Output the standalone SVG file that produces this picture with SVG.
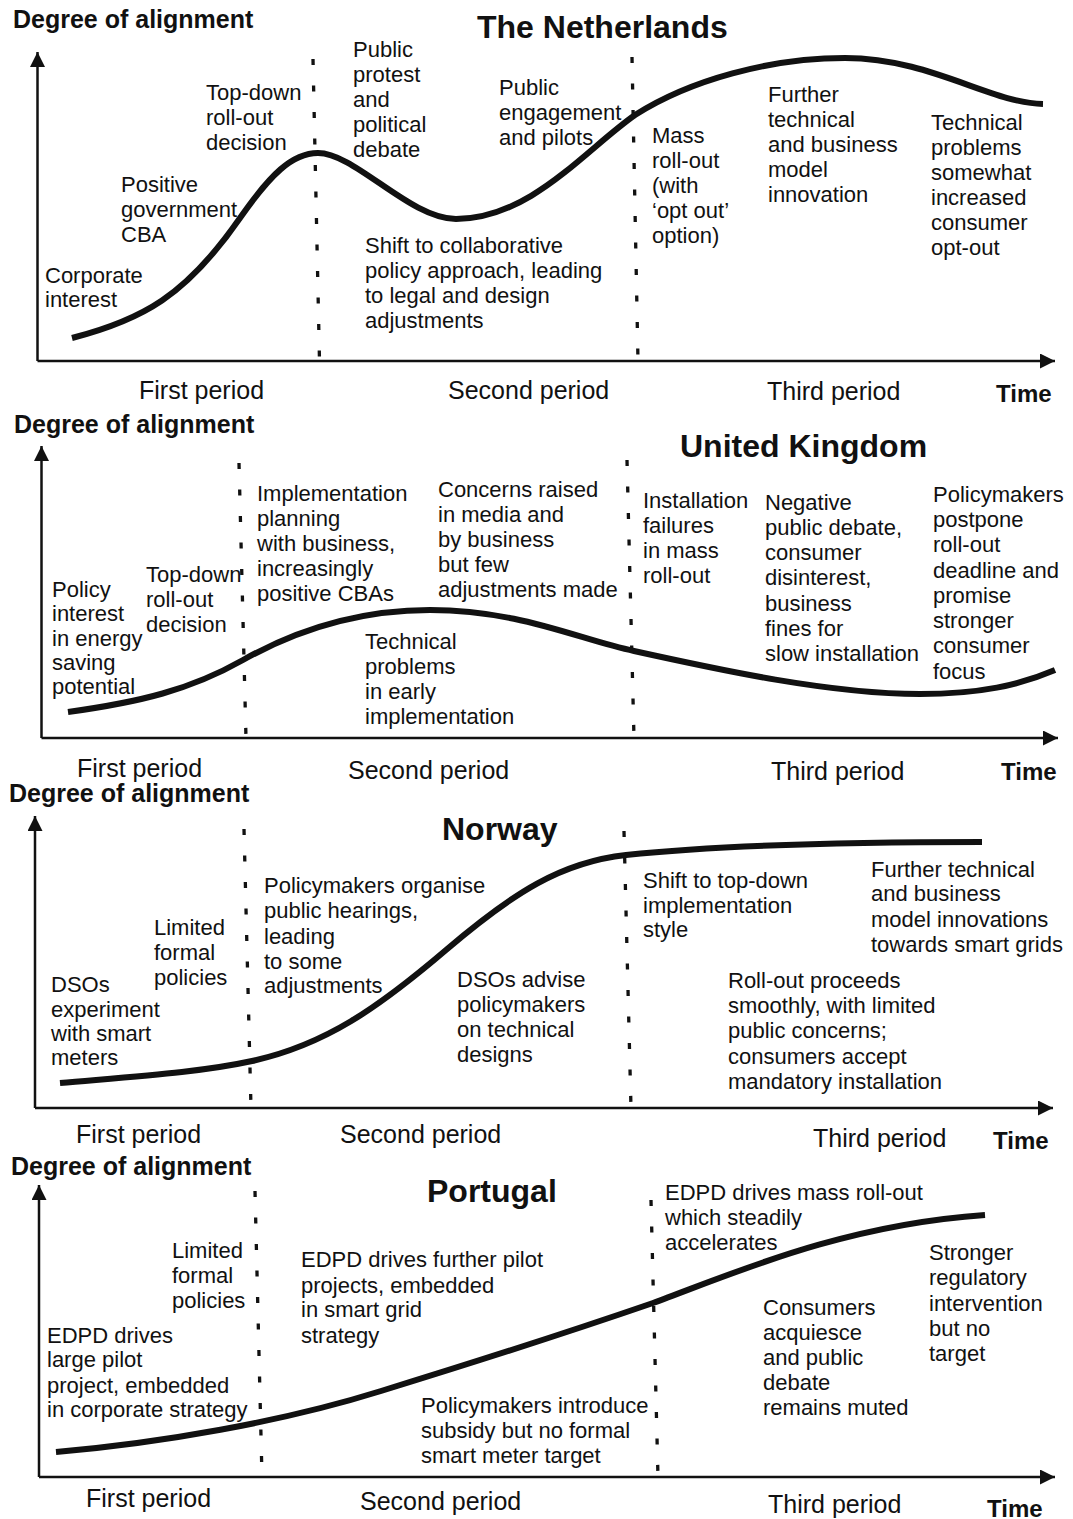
<svg xmlns="http://www.w3.org/2000/svg" width="1073" height="1519" viewBox="0 0 1073 1519">
<defs>
<marker id="arr" viewBox="0 0 16 16" refX="16" refY="8" markerWidth="16" markerHeight="15" markerUnits="userSpaceOnUse" orient="auto">
<path d="M0,0 L16,8 L0,16 z" fill="#111"/>
</marker>
</defs>
<style>
text{font-family:"Liberation Sans",Arial,Helvetica,sans-serif;fill:#111}
.lbl{font-size:22px}
.per{font-size:25px}
.ax{font-size:25px;font-weight:bold}
.ttl{font-size:32px;font-weight:bold}
.time{font-size:24px;font-weight:bold}
.axis{stroke:#111;stroke-width:2.5;fill:none;marker-end:url(#arr)}
.curve{stroke:#111;stroke-width:6;fill:none;stroke-linecap:butt}
.dot{stroke:#111;stroke-width:3.3;fill:none;stroke-dasharray:6 20.5}
</style>
<rect width="1073" height="1519" fill="#fff"/>

<!-- ================= Panel 1: The Netherlands ================= -->
<g id="panel-nl">
<g id="nl-ylabel"><text class="ax" x="13" y="28">Degree of alignment</text></g>
<g id="nl-title"><text class="ttl" x="477" y="38">The Netherlands</text></g>
<g id="nl-n1"><text class="lbl"><tspan x="45" y="283">Corporate</tspan><tspan x="45" y="307">interest</tspan></text></g>
<g id="nl-n2"><text class="lbl"><tspan x="121" y="192">Positive</tspan><tspan x="121" y="217">government</tspan><tspan x="121" y="242">CBA</tspan></text></g>
<g id="nl-n3"><text class="lbl"><tspan x="206" y="100">Top-down</tspan><tspan x="206" y="125">roll-out</tspan><tspan x="206" y="150">decision</tspan></text></g>
<g id="nl-n4"><text class="lbl"><tspan x="353" y="57">Public</tspan><tspan x="353" y="82">protest</tspan><tspan x="353" y="107">and</tspan><tspan x="353" y="132">political</tspan><tspan x="353" y="157">debate</tspan></text></g>
<g id="nl-n5"><text class="lbl"><tspan x="365" y="253">Shift to collaborative</tspan><tspan x="365" y="278">policy approach, leading</tspan><tspan x="365" y="303">to legal and design</tspan><tspan x="365" y="328">adjustments</tspan></text></g>
<g id="nl-n6"><text class="lbl"><tspan x="499" y="95">Public</tspan><tspan x="499" y="120">engagement</tspan><tspan x="499" y="145">and pilots</tspan></text></g>
<g id="nl-n7"><text class="lbl"><tspan x="652" y="143">Mass</tspan><tspan x="652" y="168">roll-out</tspan><tspan x="652" y="193">(with</tspan><tspan x="652" y="218">‘opt out’</tspan><tspan x="652" y="243">option)</tspan></text></g>
<g id="nl-n8"><text class="lbl"><tspan x="768" y="102">Further</tspan><tspan x="768" y="127">technical</tspan><tspan x="768" y="152">and business</tspan><tspan x="768" y="177">model</tspan><tspan x="768" y="202">innovation</tspan></text></g>
<g id="nl-n9"><text class="lbl"><tspan x="931" y="130">Technical</tspan><tspan x="931" y="155">problems</tspan><tspan x="931" y="180">somewhat</tspan><tspan x="931" y="205">increased</tspan><tspan x="931" y="230">consumer</tspan><tspan x="931" y="255">opt-out</tspan></text></g>
<g id="nl-p1"><text class="per" x="139" y="399">First period</text></g>
<g id="nl-p2"><text class="per" x="448" y="399">Second period</text></g>
<g id="nl-p3"><text class="per" x="767" y="400">Third period</text></g>
<g id="nl-time"><text class="time" x="996" y="402">Time</text></g>
</g>

<!-- ================= Panel 2: United Kingdom ================= -->
<g id="panel-uk">
<g id="uk-ylabel"><text class="ax" x="14" y="433">Degree of alignment</text></g>
<g id="uk-title"><text class="ttl" x="680" y="457">United Kingdom</text></g>
<g id="uk-n1"><text class="lbl"><tspan x="52" y="597">Policy</tspan><tspan x="52" y="621">interest</tspan><tspan x="52" y="646">in energy</tspan><tspan x="52" y="670">saving</tspan><tspan x="52" y="694">potential</tspan></text></g>
<g id="uk-n2"><text class="lbl"><tspan x="146" y="582">Top-down</tspan><tspan x="146" y="607">roll-out</tspan><tspan x="146" y="632">decision</tspan></text></g>
<g id="uk-n3"><text class="lbl"><tspan x="257" y="501">Implementation</tspan><tspan x="257" y="526">planning</tspan><tspan x="257" y="551">with business,</tspan><tspan x="257" y="576">increasingly</tspan><tspan x="257" y="601">positive CBAs</tspan></text></g>
<g id="uk-n4"><text class="lbl"><tspan x="438" y="497">Concerns raised</tspan><tspan x="438" y="522">in media and</tspan><tspan x="438" y="547">by business</tspan><tspan x="438" y="572">but few</tspan><tspan x="438" y="597">adjustments made</tspan></text></g>
<g id="uk-n5"><text class="lbl"><tspan x="365" y="649">Technical</tspan><tspan x="365" y="674">problems</tspan><tspan x="365" y="699">in early</tspan><tspan x="365" y="724">implementation</tspan></text></g>
<g id="uk-n6"><text class="lbl"><tspan x="643" y="508">Installation</tspan><tspan x="643" y="533">failures</tspan><tspan x="643" y="558">in mass</tspan><tspan x="643" y="583">roll-out</tspan></text></g>
<g id="uk-n7"><text class="lbl"><tspan x="765" y="510">Negative</tspan><tspan x="765" y="535">public debate,</tspan><tspan x="765" y="560">consumer</tspan><tspan x="765" y="585">disinterest,</tspan><tspan x="765" y="611">business</tspan><tspan x="765" y="636">fines for</tspan><tspan x="765" y="661">slow installation</tspan></text></g>
<g id="uk-n8"><text class="lbl"><tspan x="933" y="502">Policymakers</tspan><tspan x="933" y="527">postpone</tspan><tspan x="933" y="552">roll-out</tspan><tspan x="933" y="578">deadline and</tspan><tspan x="933" y="603">promise</tspan><tspan x="933" y="628">stronger</tspan><tspan x="933" y="653">consumer</tspan><tspan x="933" y="679">focus</tspan></text></g>
<g id="uk-p1"><text class="per" x="77" y="777">First period</text></g>
<g id="uk-p2"><text class="per" x="348" y="779">Second period</text></g>
<g id="uk-p3"><text class="per" x="771" y="780">Third period</text></g>
<g id="uk-time"><text class="time" x="1001" y="780">Time</text></g>
</g>

<!-- ================= Panel 3: Norway ================= -->
<g id="panel-no">
<g id="no-ylabel"><text class="ax" x="9" y="802">Degree of alignment</text></g>
<g id="no-title"><text class="ttl" x="442" y="840">Norway</text></g>
<g id="no-n1"><text class="lbl"><tspan x="51" y="992">DSOs</tspan><tspan x="51" y="1017">experiment</tspan><tspan x="51" y="1041">with smart</tspan><tspan x="51" y="1065">meters</tspan></text></g>
<g id="no-n2"><text class="lbl"><tspan x="154" y="935">Limited</tspan><tspan x="154" y="960">formal</tspan><tspan x="154" y="985">policies</tspan></text></g>
<g id="no-n3"><text class="lbl"><tspan x="264" y="893">Policymakers organise</tspan><tspan x="264" y="918">public hearings,</tspan><tspan x="264" y="944">leading</tspan><tspan x="264" y="969">to some</tspan><tspan x="264" y="993">adjustments</tspan></text></g>
<g id="no-n4"><text class="lbl"><tspan x="457" y="987">DSOs advise</tspan><tspan x="457" y="1012">policymakers</tspan><tspan x="457" y="1037">on technical</tspan><tspan x="457" y="1062">designs</tspan></text></g>
<g id="no-n5"><text class="lbl"><tspan x="643" y="888">Shift to top-down</tspan><tspan x="643" y="913">implementation</tspan><tspan x="643" y="937">style</tspan></text></g>
<g id="no-n6"><text class="lbl"><tspan x="871" y="877">Further technical</tspan><tspan x="871" y="901">and business</tspan><tspan x="871" y="927">model innovations</tspan><tspan x="871" y="952">towards smart grids</tspan></text></g>
<g id="no-n7"><text class="lbl"><tspan x="728" y="988">Roll-out proceeds</tspan><tspan x="728" y="1013">smoothly, with limited</tspan><tspan x="728" y="1038">public concerns;</tspan><tspan x="728" y="1064">consumers accept</tspan><tspan x="728" y="1089">mandatory installation</tspan></text></g>
<g id="no-p1"><text class="per" x="76" y="1143">First period</text></g>
<g id="no-p2"><text class="per" x="340" y="1143">Second period</text></g>
<g id="no-p3"><text class="per" x="813" y="1147">Third period</text></g>
<g id="no-time"><text class="time" x="993" y="1149">Time</text></g>
</g>

<!-- ================= Panel 4: Portugal ================= -->
<g id="panel-pt">
<g id="pt-ylabel"><text class="ax" x="11" y="1175">Degree of alignment</text></g>
<g id="pt-title"><text class="ttl" x="427" y="1202">Portugal</text></g>
<g id="pt-n1"><text class="lbl"><tspan x="47" y="1343">EDPD drives</tspan><tspan x="47" y="1367">large pilot</tspan><tspan x="47" y="1393">project, embedded</tspan><tspan x="47" y="1417">in corporate strategy</tspan></text></g>
<g id="pt-n2"><text class="lbl"><tspan x="172" y="1258">Limited</tspan><tspan x="172" y="1283">formal</tspan><tspan x="172" y="1308">policies</tspan></text></g>
<g id="pt-n3"><text class="lbl"><tspan x="301" y="1267">EDPD drives further pilot</tspan><tspan x="301" y="1293">projects, embedded</tspan><tspan x="301" y="1317">in smart grid</tspan><tspan x="301" y="1343">strategy</tspan></text></g>
<g id="pt-n4"><text class="lbl"><tspan x="421" y="1413">Policymakers introduce</tspan><tspan x="421" y="1438">subsidy but no formal</tspan><tspan x="421" y="1463">smart meter target</tspan></text></g>
<g id="pt-n5"><text class="lbl"><tspan x="665" y="1200">EDPD drives mass roll-out</tspan><tspan x="665" y="1225">which steadily</tspan><tspan x="665" y="1250">accelerates</tspan></text></g>
<g id="pt-n6"><text class="lbl"><tspan x="763" y="1315">Consumers</tspan><tspan x="763" y="1340">acquiesce</tspan><tspan x="763" y="1365">and public</tspan><tspan x="763" y="1390">debate</tspan><tspan x="763" y="1415">remains muted</tspan></text></g>
<g id="pt-n7"><text class="lbl"><tspan x="929" y="1260">Stronger</tspan><tspan x="929" y="1285">regulatory</tspan><tspan x="929" y="1311">intervention</tspan><tspan x="929" y="1336">but no</tspan><tspan x="929" y="1361">target</tspan></text></g>
<g id="pt-p1"><text class="per" x="86" y="1507">First period</text></g>
<g id="pt-p2"><text class="per" x="360" y="1510">Second period</text></g>
<g id="pt-p3"><text class="per" x="768" y="1513">Third period</text></g>
<g id="pt-time"><text class="time" x="987" y="1517">Time</text></g>
</g>

<!-- ================= Connectors: axes, curves, period dividers ================= -->
<g id="connectors">
<!-- Netherlands -->
<path class="axis" d="M37.5,361 V52"/>
<path class="axis" d="M37.5,361 H1055"/>
<path class="dot" d="M313,59 L319.5,361"/>
<path class="dot" d="M632,57 L638,361"/>
<path class="curve" d="M72,338 C142,320 186,296 240,218 C270,175 292,153 318,153 C355,153 410,219 456,219 C530,219 585,150 635,115 C690,80 770,58 845,58 C930,58 990,103 1043,104"/>
<!-- United Kingdom -->
<path class="axis" d="M41.5,738 V446"/>
<path class="axis" d="M41.5,738 H1058"/>
<path class="dot" d="M239,463 L246,738"/>
<path class="dot" d="M627,460 L634,738"/>
<path class="curve" d="M68,712 C140,702 190,690 243,660 C300,628 360,610 430,610 C520,610 580,640 634,651 C720,670 830,694 920,694 C980,694 1020,685 1055,670"/>
<!-- Norway -->
<path class="axis" d="M35,1108 V816"/>
<path class="axis" d="M35,1108 H1053"/>
<path class="dot" d="M244,829 L251,1108"/>
<path class="dot" d="M624,831 L631,1108"/>
<path class="curve" d="M60,1083 C140,1076 202,1072 252,1061 C325,1045 378,1008 446,950 C514,892 562,862 626,855 C720,845 850,842 982,842"/>
<!-- Portugal -->
<path class="axis" d="M39,1477 V1185"/>
<path class="axis" d="M39,1477 H1055"/>
<path class="dot" d="M255,1191 L262,1477"/>
<path class="dot" d="M651,1200 L658,1477"/>
<path class="curve" d="M56,1452 C160,1443 282,1422 381,1391 C472,1363 560,1335 653,1303 C730,1275 840,1225 985,1215"/>
</g>
</svg>
